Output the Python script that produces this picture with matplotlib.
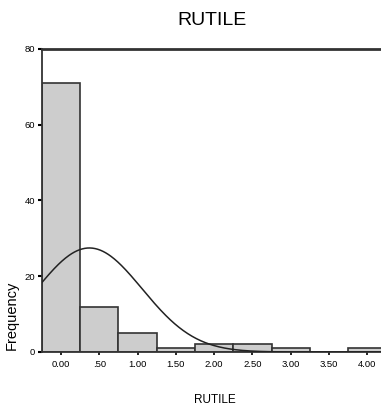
import numpy as np
import matplotlib
matplotlib.use("Agg")
import matplotlib.pyplot as plt

plt.rcParams['font.family'] = ['Liberation Sans', 'DejaVu Sans']

bin_centers = [0.0, 0.5, 1.0, 1.5, 2.0, 2.5, 3.0, 3.5, 4.0]
frequencies = [71, 12, 5, 1, 2, 2, 1, 0, 1]
tick_values = [0.0, 0.5, 1.0, 1.5, 2.0, 2.5, 3.0, 3.5, 4.0]
tick_labels = ['0.00', '.50', '1.00', '1.50', '2.00', '2.50', '3.00', '3.50', '4.00']
y_ticks = [0, 20, 40, 60, 80]
fit_mean = 0.37
fit_sd = 0.69
n_total = 95
bin_width = 0.5

fig = plt.figure(figsize=(3.81, 4.11), dpi=100)
ax = fig.add_axes([0.110, 0.1436, 0.890, 0.7372])

ax.bar(bin_centers, frequencies, width=bin_width, color='#cdcdcd',
       edgecolor='#333333', linewidth=1.2, zorder=2)

xs = np.linspace(-0.25, 4.3, 400)
ys = n_total * bin_width / (fit_sd * np.sqrt(2 * np.pi)) * np.exp(-(xs - fit_mean) ** 2 / (2 * fit_sd ** 2))
ax.plot(xs, ys, color='#222222', linewidth=1.1, zorder=3)

ax.set_xlim(-0.25, 4.18)
ax.set_ylim(0, 80)
ax.set_xticks(tick_values)
ax.set_xticklabels(tick_labels, fontsize=6.8)
ax.set_yticks(y_ticks)
ax.set_yticklabels([str(v) for v in y_ticks], fontsize=6.8)
ax.tick_params(axis='x', length=2, width=1.2, direction='out', pad=4)
ax.tick_params(axis='y', length=3, width=1.5, direction='out', pad=2)

for s in ['left', 'bottom', 'top']:
    ax.spines[s].set_color('#333333')
    ax.spines[s].set_linewidth(1.3)
ax.spines['top'].set_linewidth(2.0)
ax.spines['right'].set_visible(False)

fig.text(0.557, 0.949, 'RUTILE', ha='center', va='center', fontsize=14)
fig.text(0.565, 0.027, 'RUTILE', ha='center', va='center', fontsize=8.5)
fig.text(0.030, 0.233, 'Frequency', ha='center', va='center', rotation=90, fontsize=10.5)

fig.savefig('out.png', dpi=100)
